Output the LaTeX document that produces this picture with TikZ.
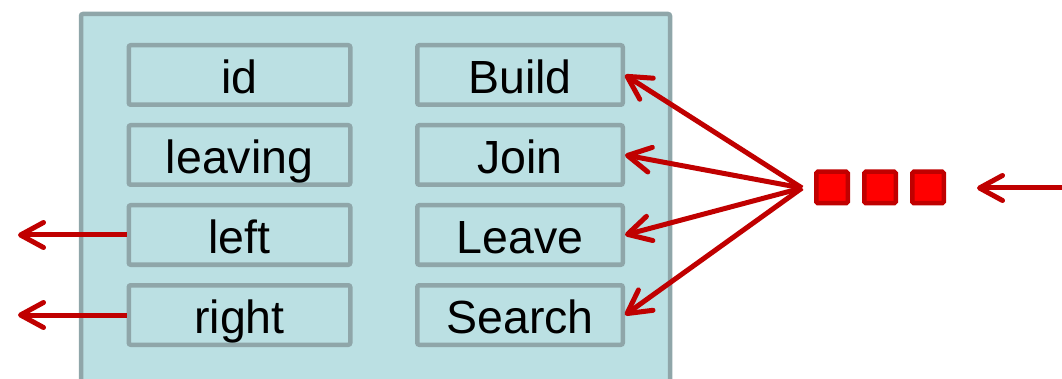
\documentclass[tikz,border=0pt]{standalone}
\usepackage{fontspec}
\setmainfont{Liberation Sans}
\usepackage{xcolor}
\usepackage{tikz}
\usetikzlibrary{arrows.meta,positioning,calc}
\definecolor{nodecyan}{RGB}{187,224,227}
\definecolor{nodegray}{RGB}{143,166,169}
\definecolor{msgred}{RGB}{192,0,0}
\definecolor{msgfill}{RGB}{255,0,0}

\tikzset{
  field/.style={draw=nodegray,fill=nodecyan,line width=4.5pt,rounded corners=2pt,
    inner sep=0pt,minimum height=59.5pt,text height=37pt,text depth=0pt,
    font=\fontsize{46.5}{50}\selectfont},
  msg/.style={draw=msgred,fill=msgfill,line width=4.5pt,rounded corners=1.5pt,
    minimum width=31.5pt,minimum height=31.5pt,inner sep=0pt},
  call/.style={msgred,line width=5pt,-{Straight Barb[length=23pt,width=25pt,round]}}
}

\begin{document}
\begin{tikzpicture}[x=1pt,y=-1pt]
    \useasboundingbox (0,0) rectangle (1062,379);
    \clip (0,0) rectangle (1062,379);

    % outer node
    \draw[draw=nodegray,fill=nodecyan,line width=4.5pt,rounded corners=2pt] (81,14) rectangle (670,400);

    % state fields
    \node[field,minimum width=221.5pt] (id) at (239.5,75) {id};
    \node[field,minimum width=221.5pt] (leaving) at (239.5,155) {leaving};
    \node[field,minimum width=221.5pt] (left) at (239.5,235) {left};
    \node[field,minimum width=221.5pt] (right) at (239.5,315) {right};

    % operations
    \node[field,minimum width=205.5pt] (build) at (520,75) {Build};
    \node[field,minimum width=205.5pt] (join) at (520,155) {Join};
    \node[field,minimum width=205.5pt] (leave) at (520,235) {Leave};
    \node[field,minimum width=205.5pt] (search) at (520,315) {Search};

    % message queue
    \node[msg] (m1) at (832,187.5) {};
    \node[msg] (m2) at (880,187.5) {};
    \node[msg] (m3) at (928,187.5) {};

    \coordinate (hub) at (802,188);
    \coordinate (inq) at (1066,188);
    \coordinate (inqend) at (977,188);
    \coordinate (leftout) at (18,235);
    \coordinate (rightout) at (18,315);

    % dispatch
    \draw[call] (hub) -- (build.east);
    \draw[call] (hub) -- (join.east);
    \draw[call] (hub) -- (leave.east);
    \draw[call] (hub) -- (search.east);

    % links
    \draw[call] (inq) -- (inqend);
    \draw[call] (left.west) -- (leftout);
    \draw[call] (right.west) -- (rightout);
\end{tikzpicture}
\end{document}
